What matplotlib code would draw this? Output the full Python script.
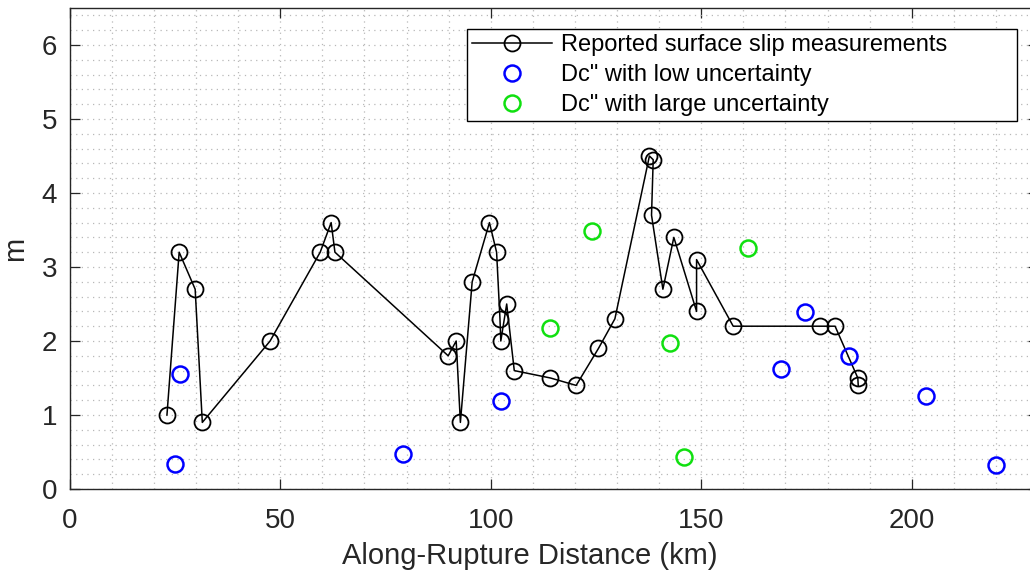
import numpy as np
import matplotlib
matplotlib.use("Agg")
import matplotlib.pyplot as plt
from matplotlib.ticker import MultipleLocator

# reported surface slip (along-rupture km, m)
slip_x = [23.1, 26.0, 29.8, 31.5, 47.6, 59.5, 62.1, 63.0, 89.9, 91.8, 92.8, 95.6,
          99.7, 101.4, 102.2, 102.4, 103.8, 105.6, 114.2, 120.3, 125.6, 129.5,
          137.7, 138.6, 138.2, 140.9, 143.5, 148.9, 148.9, 157.6, 178.2, 181.8,
          187.2, 187.3]
slip_y = [1.0, 3.2, 2.7, 0.9, 2.0, 3.2, 3.6, 3.2, 1.8, 2.0, 0.9, 2.8,
          3.6, 3.2, 2.3, 2.0, 2.5, 1.6, 1.5, 1.4, 1.9, 2.3,
          4.5, 4.45, 3.7, 2.7, 3.4, 2.4, 3.1, 2.2, 2.2, 2.2,
          1.5, 1.4]

# Dc'' estimates
low_x = [24.9, 26.2, 79.2, 102.4, 168.9, 174.7, 185.2, 203.3, 220.0]
low_y = [0.34, 1.55, 0.47, 1.19, 1.62, 2.39, 1.80, 1.26, 0.32]
large_x = [114.1, 124.0, 142.6, 145.9, 161.0]
large_y = [2.17, 3.49, 1.97, 0.43, 3.26]

plt.rcParams["font.family"] = ["Liberation Sans", "DejaVu Sans"]
W, H = 1030, 577
fig = plt.figure(figsize=(W / 100, H / 100), dpi=100)
# axis spans x=0 at 69.7px, 4.21 px/km; y=0 at 489px, 74 px/m
ax = fig.add_axes([69.7 / W, (H - 489) / H, 230 * 4.21 / W, 6.5 * 74 / H])

dark = (0.15, 0.15, 0.15)
ax.plot(slip_x, slip_y, "-o", color="k", lw=1.1, ms=11.5, mfc="none", mew=1.3,
        label="Reported surface slip measurements", zorder=3)
ax.plot(low_x, low_y, "o", color="#0000ff", ms=11.5, mfc="none", mew=1.8,
        label="Dc\" with low uncertainty", zorder=3)
ax.plot(large_x, large_y, "o", color="#10e010", ms=11.5, mfc="none", mew=1.8,
        label="Dc\" with large uncertainty", zorder=3)

ax.set_xlim(0, 230)
ax.set_ylim(0, 6.5)
ax.xaxis.set_major_locator(MultipleLocator(50))
ax.xaxis.set_minor_locator(MultipleLocator(10))
ax.yaxis.set_major_locator(MultipleLocator(1))
ax.yaxis.set_minor_locator(MultipleLocator(0.2))
ax.grid(which="both", color=(0.72, 0.72, 0.72), linestyle=(0, (1, 3.5)), lw=0.9)
ax.set_axisbelow(True)
ax.tick_params(which="major", direction="in", length=7, width=0.9, colors=dark,
               labelsize=20, top=True, right=True)
ax.tick_params(axis="x", pad=14)
ax.tick_params(axis="y", pad=9)
ax.tick_params(which="minor", length=0)
for s in ax.spines.values():
    s.set_color(dark)
    s.set_linewidth(1.0)

ax.set_xlabel("Along-Rupture Distance (km)", fontsize=21, color=dark)
ax.xaxis.set_label_coords(0.475, -0.11)
ax.set_ylabel("m", fontsize=21, color=dark)
ax.yaxis.set_label_coords(-0.042, 0.5)

# legend box in the reference: x 467..1017, y 28..118 px
leg = ax.legend(loc="upper left", mode="expand",
                bbox_to_anchor=(467 / W, 1 - 118 / H, 550 / W, 89 / H),
                bbox_transform=fig.transFigure, borderaxespad=0, fontsize=17,
                handlelength=3.4, handletextpad=0.35, labelspacing=0.33,
                borderpad=0.22, fancybox=False, framealpha=1)
leg.get_frame().set_edgecolor("k")
leg.get_frame().set_linewidth(1.0)

fig.savefig("out.png", dpi=100)
